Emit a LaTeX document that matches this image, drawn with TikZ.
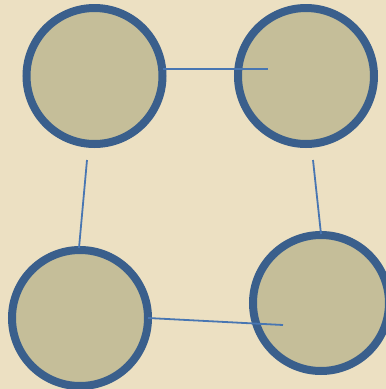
\documentclass[tikz,border=0pt]{standalone}
\usetikzlibrary{calc}
\definecolor{paper}{RGB}{236,224,194}
\definecolor{ringblue}{RGB}{58,95,140}
\definecolor{khaki}{RGB}{197,190,153}
\definecolor{linkblue}{RGB}{72,118,178}
\tikzset{
  ball/.style={circle, draw=ringblue, fill=khaki, line width=8pt,
               minimum size=136pt, inner sep=0pt},
  link/.style={linkblue, line width=1.8pt},
}
\begin{document}
\begin{tikzpicture}[x=1pt, y=-1pt]

  % ---- background ----
  \fill[paper] (0,0) rectangle (386,389);
  \clip (0,0) rectangle (386,389);

  % ---- circles ----
  \node[ball] (tl) at (94.5,76) {};
  \node[ball] (tr) at (306,76) {};
  \node[ball] (bl) at (80,318) {};
  \node[ball] (br) at (321,303) {};

  % ---- free ends ----
  \coordinate (tlA) at ($(tl.center)+(68.5,-7)$);
  \coordinate (trA) at ($(tr.center)+(-38,-7)$);
  \coordinate (tlB) at ($(tl.center)+(-7.5,84)$);
  \coordinate (blB) at ($(bl.center)+(-1,-70)$);
  \coordinate (trC) at ($(tr.center)+(7,84)$);
  \coordinate (brC) at ($(br.center)+(0,-69)$);
  \coordinate (blD) at ($(bl.center)+(68,0)$);
  \coordinate (brD) at ($(br.center)+(-38,22)$);

  % ---- links ----
  \draw[link] (tlA) -- (trA);
  \draw[link] (tlB) -- (blB);
  \draw[link] (trC) -- (brC);
  \draw[link] (blD) -- (brD);

\end{tikzpicture}
\end{document}
